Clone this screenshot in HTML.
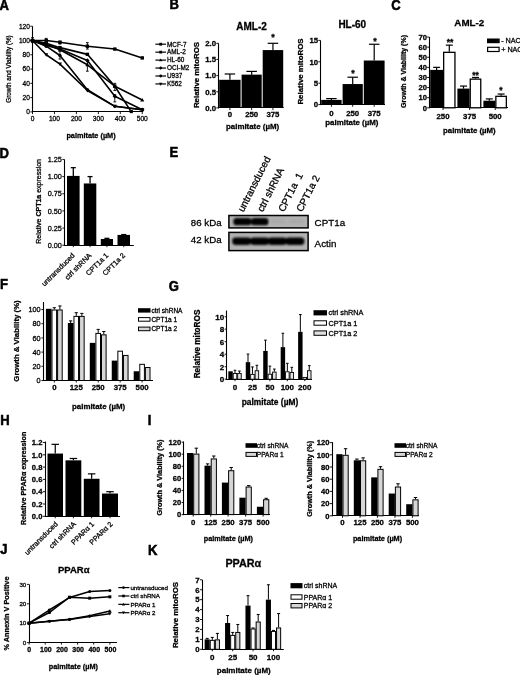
<!DOCTYPE html>
<html><head><meta charset="utf-8"><title>Figure</title>
<style>
html,body{margin:0;padding:0;background:#fff;}
body{width:520px;height:675px;overflow:hidden;}
svg{display:block;font-family:"Liberation Sans",sans-serif;filter:grayscale(100%) blur(0.3px);}
text{stroke:#000;stroke-width:0.28px;}
</style></head><body>
<svg width="520" height="675" viewBox="0 0 520 675">
<rect width="520" height="675" fill="#fff"/>
<g fill="#000" stroke="none">
<text transform="translate(-0.5 9.6) scale(0.92 1)" font-size="14.2" font-weight="bold" style="stroke-width:0.55px">A</text>
<text transform="translate(169.5 8.8) scale(0.92 1)" font-size="14.2" font-weight="bold" style="stroke-width:0.55px">B</text>
<text transform="translate(391.3 9.5) scale(0.92 1)" font-size="14.2" font-weight="bold" style="stroke-width:0.55px">C</text>
<text transform="translate(-0.5 157.6) scale(0.92 1)" font-size="14.2" font-weight="bold" style="stroke-width:0.55px">D</text>
<text transform="translate(169.4 157) scale(0.92 1)" font-size="14.2" font-weight="bold" style="stroke-width:0.55px">E</text>
<text transform="translate(0 289.4) scale(0.92 1)" font-size="14.2" font-weight="bold" style="stroke-width:0.55px">F</text>
<text transform="translate(168.8 291.2) scale(0.92 1)" font-size="14.2" font-weight="bold" style="stroke-width:0.55px">G</text>
<text transform="translate(0.2 425) scale(0.92 1)" font-size="14.2" font-weight="bold" style="stroke-width:0.55px">H</text>
<text transform="translate(147.8 425) scale(0.92 1)" font-size="14.2" font-weight="bold" style="stroke-width:0.55px">I</text>
<text transform="translate(0.2 553.8) scale(0.92 1)" font-size="14.2" font-weight="bold" style="stroke-width:0.55px">J</text>
<text transform="translate(148 555) scale(0.92 1)" font-size="14.2" font-weight="bold" style="stroke-width:0.55px">K</text>
<line x1="32.5" y1="26.22" x2="32.5" y2="112.4" stroke="#000" stroke-width="1.1"/>
<line x1="32" y1="111.5" x2="143.25" y2="111.5" stroke="#000" stroke-width="1.1"/>
<line x1="30.3" y1="111.9" x2="32.5" y2="111.9" stroke="#000" stroke-width="0.9"/>
<text x="29.9" y="114.28" font-size="6.6" font-weight="normal" text-anchor="end">0</text>
<line x1="30.3" y1="97.62" x2="32.5" y2="97.62" stroke="#000" stroke-width="0.9"/>
<text x="29.9" y="100" font-size="6.6" font-weight="normal" text-anchor="end">20</text>
<line x1="30.3" y1="83.34" x2="32.5" y2="83.34" stroke="#000" stroke-width="0.9"/>
<text x="29.9" y="85.72" font-size="6.6" font-weight="normal" text-anchor="end">40</text>
<line x1="30.3" y1="69.06" x2="32.5" y2="69.06" stroke="#000" stroke-width="0.9"/>
<text x="29.9" y="71.44" font-size="6.6" font-weight="normal" text-anchor="end">60</text>
<line x1="30.3" y1="54.78" x2="32.5" y2="54.78" stroke="#000" stroke-width="0.9"/>
<text x="29.9" y="57.16" font-size="6.6" font-weight="normal" text-anchor="end">80</text>
<line x1="30.3" y1="40.5" x2="32.5" y2="40.5" stroke="#000" stroke-width="0.9"/>
<text x="29.9" y="42.88" font-size="6.6" font-weight="normal" text-anchor="end">100</text>
<line x1="30.3" y1="26.22" x2="32.5" y2="26.22" stroke="#000" stroke-width="0.9"/>
<text x="29.9" y="28.6" font-size="6.6" font-weight="normal" text-anchor="end">120</text>
<line x1="32.5" y1="111.9" x2="32.5" y2="114.1" stroke="#000" stroke-width="0.9"/>
<text x="32.5" y="121.18" font-size="6.6" font-weight="normal" text-anchor="middle">0</text>
<line x1="54.45" y1="111.9" x2="54.45" y2="114.1" stroke="#000" stroke-width="0.9"/>
<text x="54.45" y="121.18" font-size="6.6" font-weight="normal" text-anchor="middle">100</text>
<line x1="76.4" y1="111.9" x2="76.4" y2="114.1" stroke="#000" stroke-width="0.9"/>
<text x="76.4" y="121.18" font-size="6.6" font-weight="normal" text-anchor="middle">200</text>
<line x1="98.35" y1="111.9" x2="98.35" y2="114.1" stroke="#000" stroke-width="0.9"/>
<text x="98.35" y="121.18" font-size="6.6" font-weight="normal" text-anchor="middle">300</text>
<line x1="120.3" y1="111.9" x2="120.3" y2="114.1" stroke="#000" stroke-width="0.9"/>
<text x="120.3" y="121.18" font-size="6.6" font-weight="normal" text-anchor="middle">400</text>
<line x1="142.25" y1="111.9" x2="142.25" y2="114.1" stroke="#000" stroke-width="0.9"/>
<text x="142.25" y="121.18" font-size="6.6" font-weight="normal" text-anchor="middle">500</text>
<text transform="translate(11.17 69) rotate(-90)" font-size="6.3" font-weight="normal" text-anchor="middle">Growth and Viability (%)</text>
<text x="91" y="138.23" font-size="7.3" font-weight="bold" text-anchor="middle">palmitate (&#181;M)</text>
<polyline points="32.5,40.5 46.22,40.5 59.94,42.29 87.38,46.21 114.81,49.07 142.25,57.92" fill="none" stroke="#000" stroke-width="1.6" stroke-linejoin="round"/>
<polyline points="32.5,40.5 46.22,43.36 59.94,47.64 87.38,54.35 114.81,86.2 131.28,111.9" fill="none" stroke="#000" stroke-width="1.6" stroke-linejoin="round"/>
<polyline points="32.5,40.5 46.22,44.07 59.94,49.78 87.38,64.78 114.81,86.2 142.25,100.05" fill="none" stroke="#000" stroke-width="1.6" stroke-linejoin="round"/>
<polyline points="32.5,40.5 46.22,45.5 59.94,49.07 87.38,60.49 114.81,96.19 142.25,109.76" fill="none" stroke="#000" stroke-width="1.6" stroke-linejoin="round"/>
<polyline points="32.5,40.5 46.22,46.21 59.94,55.49 87.38,89.77 114.81,106.33 142.25,109.76" fill="none" stroke="#000" stroke-width="1.6" stroke-linejoin="round"/>
<polyline points="32.5,40.5 46.22,54.78 59.94,64.06 87.38,90.48 114.81,106.33 142.25,109.76" fill="none" stroke="#000" stroke-width="1.6" stroke-linejoin="round"/>
<rect x="30.8" y="38.8" width="3.4" height="3.4" fill="#000"/>
<rect x="44.52" y="38.8" width="3.4" height="3.4" fill="#000"/>
<rect x="58.24" y="40.59" width="3.4" height="3.4" fill="#000"/>
<rect x="85.67" y="44.51" width="3.4" height="3.4" fill="#000"/>
<rect x="113.11" y="47.37" width="3.4" height="3.4" fill="#000"/>
<rect x="140.55" y="56.22" width="3.4" height="3.4" fill="#000"/>
<rect x="30.8" y="38.8" width="3.4" height="3.4" fill="#000"/>
<rect x="44.52" y="41.66" width="3.4" height="3.4" fill="#000"/>
<rect x="58.24" y="45.94" width="3.4" height="3.4" fill="#000"/>
<rect x="85.67" y="52.65" width="3.4" height="3.4" fill="#000"/>
<rect x="113.11" y="84.5" width="3.4" height="3.4" fill="#000"/>
<polygon points="32.5,38.46 30.46,42.03 34.54,42.03" fill="#000"/>
<polygon points="46.22,42.03 44.18,45.6 48.26,45.6" fill="#000"/>
<polygon points="59.94,47.74 57.9,51.31 61.98,51.31" fill="#000"/>
<polygon points="87.38,62.74 85.33,66.31 89.42,66.31" fill="#000"/>
<polygon points="114.81,84.16 112.77,87.73 116.85,87.73" fill="#000"/>
<polygon points="142.25,98.01 140.21,101.58 144.29,101.58" fill="#000"/>
<polygon points="32.5,38.29 34.71,40.5 32.5,42.71 30.29,40.5" fill="#000"/>
<polygon points="46.22,43.29 48.43,45.5 46.22,47.71 44.01,45.5" fill="#000"/>
<polygon points="59.94,46.86 62.15,49.07 59.94,51.28 57.73,49.07" fill="#000"/>
<polygon points="87.38,58.28 89.58,60.49 87.38,62.7 85.17,60.49" fill="#000"/>
<polygon points="114.81,93.98 117.02,96.19 114.81,98.4 112.6,96.19" fill="#000"/>
<polygon points="142.25,107.55 144.46,109.76 142.25,111.97 140.04,109.76" fill="#000"/>
<circle cx="32.5" cy="40.5" r="1.7" fill="#000"/>
<circle cx="46.22" cy="46.21" r="1.7" fill="#000"/>
<circle cx="59.94" cy="55.49" r="1.7" fill="#000"/>
<circle cx="87.38" cy="89.77" r="1.7" fill="#000"/>
<circle cx="114.81" cy="106.33" r="1.7" fill="#000"/>
<circle cx="142.25" cy="109.76" r="1.7" fill="#000"/>
<polygon points="32.5,42.54 30.46,38.97 34.54,38.97" fill="#000"/>
<polygon points="46.22,56.82 44.18,53.25 48.26,53.25" fill="#000"/>
<polygon points="59.94,66.1 57.9,62.53 61.98,62.53" fill="#000"/>
<polygon points="87.38,92.52 85.33,88.95 89.42,88.95" fill="#000"/>
<polygon points="114.81,108.37 112.77,104.8 116.85,104.8" fill="#000"/>
<polygon points="142.25,111.8 140.21,108.23 144.29,108.23" fill="#000"/>
<rect x="129.68" y="109.94" width="3.2" height="3.2" fill="#000"/>
<line x1="32.5" y1="42.64" x2="32.5" y2="37.64" stroke="#000" stroke-width="0.9"/>
<line x1="31.1" y1="42.64" x2="33.9" y2="42.64" stroke="#000" stroke-width="0.9"/>
<line x1="31.1" y1="37.64" x2="33.9" y2="37.64" stroke="#000" stroke-width="0.9"/>
<line x1="46.22" y1="42.64" x2="46.22" y2="38.36" stroke="#000" stroke-width="0.9"/>
<line x1="44.82" y1="42.64" x2="47.62" y2="42.64" stroke="#000" stroke-width="0.9"/>
<line x1="44.82" y1="38.36" x2="47.62" y2="38.36" stroke="#000" stroke-width="0.9"/>
<line x1="59.94" y1="59.06" x2="59.94" y2="51.21" stroke="#000" stroke-width="0.9"/>
<line x1="58.54" y1="59.06" x2="61.34" y2="59.06" stroke="#000" stroke-width="0.9"/>
<line x1="58.54" y1="51.21" x2="61.34" y2="51.21" stroke="#000" stroke-width="0.9"/>
<line x1="59.94" y1="44.07" x2="59.94" y2="41.21" stroke="#000" stroke-width="0.9"/>
<line x1="58.54" y1="44.07" x2="61.34" y2="44.07" stroke="#000" stroke-width="0.9"/>
<line x1="58.54" y1="41.21" x2="61.34" y2="41.21" stroke="#000" stroke-width="0.9"/>
<line x1="87.38" y1="49.07" x2="87.38" y2="42.64" stroke="#000" stroke-width="0.9"/>
<line x1="85.97" y1="49.07" x2="88.78" y2="49.07" stroke="#000" stroke-width="0.9"/>
<line x1="85.97" y1="42.64" x2="88.78" y2="42.64" stroke="#000" stroke-width="0.9"/>
<line x1="87.38" y1="71.2" x2="87.38" y2="60.49" stroke="#000" stroke-width="0.9"/>
<line x1="85.97" y1="71.2" x2="88.78" y2="71.2" stroke="#000" stroke-width="0.9"/>
<line x1="85.97" y1="60.49" x2="88.78" y2="60.49" stroke="#000" stroke-width="0.9"/>
<line x1="114.81" y1="90.48" x2="114.81" y2="83.34" stroke="#000" stroke-width="0.9"/>
<line x1="113.41" y1="90.48" x2="116.21" y2="90.48" stroke="#000" stroke-width="0.9"/>
<line x1="113.41" y1="83.34" x2="116.21" y2="83.34" stroke="#000" stroke-width="0.9"/>
<line x1="114.81" y1="101.9" x2="114.81" y2="94.76" stroke="#000" stroke-width="0.9"/>
<line x1="113.41" y1="101.9" x2="116.21" y2="101.9" stroke="#000" stroke-width="0.9"/>
<line x1="113.41" y1="94.76" x2="116.21" y2="94.76" stroke="#000" stroke-width="0.9"/>
<line x1="155.4" y1="44.2" x2="166" y2="44.2" stroke="#000" stroke-width="1.2"/>
<rect x="159.3" y="42.8" width="2.8" height="2.8" fill="#000"/>
<text x="167" y="46.5" font-size="6.4" font-weight="normal" text-anchor="start">MCF-7</text>
<line x1="155.4" y1="52.15" x2="166" y2="52.15" stroke="#000" stroke-width="1.2"/>
<rect x="159.3" y="50.75" width="2.8" height="2.8" fill="#000"/>
<text x="167" y="54.45" font-size="6.4" font-weight="normal" text-anchor="start">AML-2</text>
<line x1="155.4" y1="60.1" x2="166" y2="60.1" stroke="#000" stroke-width="1.2"/>
<polygon points="160.7,58.42 159.02,61.36 162.38,61.36" fill="#000"/>
<text x="167" y="62.4" font-size="6.4" font-weight="normal" text-anchor="start">HL-60</text>
<line x1="155.4" y1="68.05" x2="166" y2="68.05" stroke="#000" stroke-width="1.2"/>
<polygon points="160.7,66.23 162.52,68.05 160.7,69.87 158.88,68.05" fill="#000"/>
<text x="167" y="70.35" font-size="6.4" font-weight="normal" text-anchor="start">OCI-M2</text>
<line x1="155.4" y1="76" x2="166" y2="76" stroke="#000" stroke-width="1.2"/>
<circle cx="160.7" cy="76" r="1.4" fill="#000"/>
<text x="167" y="78.3" font-size="6.4" font-weight="normal" text-anchor="start">U937</text>
<line x1="155.4" y1="83.95" x2="166" y2="83.95" stroke="#000" stroke-width="1.2"/>
<polygon points="160.7,85.63 159.02,82.69 162.38,82.69" fill="#000"/>
<text x="167" y="86.25" font-size="6.4" font-weight="normal" text-anchor="start">K562</text>
<text x="251.5" y="30.3" font-size="10" font-weight="bold" text-anchor="middle">AML-2</text>
<line x1="218.5" y1="43.3" x2="218.5" y2="108.4" stroke="#000" stroke-width="1.1"/>
<line x1="218" y1="107.5" x2="283.7" y2="107.5" stroke="#000" stroke-width="1.1"/>
<line x1="216.3" y1="107.9" x2="218.5" y2="107.9" stroke="#000" stroke-width="0.9"/>
<text x="216.1" y="110.71" font-size="7.8" font-weight="bold" text-anchor="end">0.0</text>
<line x1="216.3" y1="91.75" x2="218.5" y2="91.75" stroke="#000" stroke-width="0.9"/>
<text x="216.1" y="94.56" font-size="7.8" font-weight="bold" text-anchor="end">0.5</text>
<line x1="216.3" y1="75.6" x2="218.5" y2="75.6" stroke="#000" stroke-width="0.9"/>
<text x="216.1" y="78.41" font-size="7.8" font-weight="bold" text-anchor="end">1.0</text>
<line x1="216.3" y1="59.45" x2="218.5" y2="59.45" stroke="#000" stroke-width="0.9"/>
<text x="216.1" y="62.26" font-size="7.8" font-weight="bold" text-anchor="end">1.5</text>
<line x1="216.3" y1="43.3" x2="218.5" y2="43.3" stroke="#000" stroke-width="0.9"/>
<text x="216.1" y="46.11" font-size="7.8" font-weight="bold" text-anchor="end">2.0</text>
<line x1="229.9" y1="79.8" x2="229.9" y2="73.99" stroke="#000" stroke-width="1.2"/>
<line x1="224.65" y1="73.99" x2="235.15" y2="73.99" stroke="#000" stroke-width="1.2"/>
<rect x="219.2" y="79.8" width="21.4" height="28.1" fill="#000"/>
<line x1="251.65" y1="74.63" x2="251.65" y2="71.4" stroke="#000" stroke-width="1.2"/>
<line x1="246.4" y1="71.4" x2="256.9" y2="71.4" stroke="#000" stroke-width="1.2"/>
<rect x="241.6" y="74.63" width="20.1" height="33.27" fill="#000"/>
<line x1="272.95" y1="50.08" x2="272.95" y2="43.3" stroke="#000" stroke-width="1.2"/>
<line x1="267.7" y1="43.3" x2="278.2" y2="43.3" stroke="#000" stroke-width="1.2"/>
<rect x="262.7" y="50.08" width="20.5" height="57.82" fill="#000"/>
<line x1="229.9" y1="107.9" x2="229.9" y2="110.1" stroke="#000" stroke-width="0.9"/>
<text x="229.9" y="117.11" font-size="7.8" font-weight="bold" text-anchor="middle">0</text>
<line x1="251.65" y1="107.9" x2="251.65" y2="110.1" stroke="#000" stroke-width="0.9"/>
<text x="251.65" y="117.11" font-size="7.8" font-weight="bold" text-anchor="middle">250</text>
<line x1="272.95" y1="107.9" x2="272.95" y2="110.1" stroke="#000" stroke-width="0.9"/>
<text x="272.95" y="117.11" font-size="7.8" font-weight="bold" text-anchor="middle">375</text>
<text x="273" y="39.74" font-size="9" font-weight="bold" text-anchor="middle">*</text>
<text x="252.6" y="128.64" font-size="7.9" font-weight="bold" text-anchor="middle">palmitate (&#181;M)</text>
<text transform="translate(199.44 75) rotate(-90)" font-size="7.9" font-weight="bold" text-anchor="middle">Relative mitoROS</text>
<text x="352.3" y="28" font-size="10" font-weight="bold" text-anchor="middle">HL-60</text>
<line x1="320.5" y1="40.4" x2="320.5" y2="105.1" stroke="#000" stroke-width="1.1"/>
<line x1="320" y1="104.5" x2="385" y2="104.5" stroke="#000" stroke-width="1.1"/>
<line x1="318.3" y1="104.6" x2="320.5" y2="104.6" stroke="#000" stroke-width="0.9"/>
<text x="318.1" y="107.41" font-size="7.8" font-weight="bold" text-anchor="end">0</text>
<line x1="318.3" y1="83.2" x2="320.5" y2="83.2" stroke="#000" stroke-width="0.9"/>
<text x="318.1" y="86.01" font-size="7.8" font-weight="bold" text-anchor="end">5</text>
<line x1="318.3" y1="61.8" x2="320.5" y2="61.8" stroke="#000" stroke-width="0.9"/>
<text x="318.1" y="64.61" font-size="7.8" font-weight="bold" text-anchor="end">10</text>
<line x1="318.3" y1="40.4" x2="320.5" y2="40.4" stroke="#000" stroke-width="0.9"/>
<text x="318.1" y="43.21" font-size="7.8" font-weight="bold" text-anchor="end">15</text>
<line x1="331.4" y1="99.89" x2="331.4" y2="98.61" stroke="#000" stroke-width="1.2"/>
<line x1="326.15" y1="98.61" x2="336.65" y2="98.61" stroke="#000" stroke-width="1.2"/>
<rect x="321.2" y="99.89" width="20.4" height="4.71" fill="#000"/>
<line x1="331.4" y1="104.6" x2="331.4" y2="106.8" stroke="#000" stroke-width="0.9"/>
<text x="331.4" y="115.51" font-size="7.8" font-weight="bold" text-anchor="middle">0</text>
<line x1="352.7" y1="84.06" x2="352.7" y2="77.21" stroke="#000" stroke-width="1.2"/>
<line x1="347.45" y1="77.21" x2="357.95" y2="77.21" stroke="#000" stroke-width="1.2"/>
<rect x="342.6" y="84.06" width="20.2" height="20.54" fill="#000"/>
<line x1="352.7" y1="104.6" x2="352.7" y2="106.8" stroke="#000" stroke-width="0.9"/>
<text x="352.7" y="115.51" font-size="7.8" font-weight="bold" text-anchor="middle">250</text>
<line x1="374.2" y1="60.52" x2="374.2" y2="44.25" stroke="#000" stroke-width="1.2"/>
<line x1="368.95" y1="44.25" x2="379.45" y2="44.25" stroke="#000" stroke-width="1.2"/>
<rect x="363.8" y="60.52" width="20.8" height="44.08" fill="#000"/>
<line x1="374.2" y1="104.6" x2="374.2" y2="106.8" stroke="#000" stroke-width="0.9"/>
<text x="374.2" y="115.51" font-size="7.8" font-weight="bold" text-anchor="middle">375</text>
<text x="352.9" y="76.04" font-size="9" font-weight="bold" text-anchor="middle">*</text>
<text x="375" y="44.04" font-size="9" font-weight="bold" text-anchor="middle">*</text>
<text x="351.9" y="124.54" font-size="7.9" font-weight="bold" text-anchor="middle">palmitate (&#181;M)</text>
<text transform="translate(303.24 71.5) rotate(-90)" font-size="7.9" font-weight="bold" text-anchor="middle">Relative mitoROS</text>
<text x="469.3" y="25.93" font-size="9.8" font-weight="bold" text-anchor="middle">AML-2</text>
<line x1="429.5" y1="37.03" x2="429.5" y2="108.3" stroke="#000" stroke-width="1.1"/>
<line x1="429" y1="107.5" x2="508" y2="107.5" stroke="#000" stroke-width="1.1"/>
<line x1="427.1" y1="107.8" x2="429.3" y2="107.8" stroke="#000" stroke-width="0.9"/>
<text x="426.9" y="110.54" font-size="7.6" font-weight="bold" text-anchor="end">0</text>
<line x1="427.1" y1="97.69" x2="429.3" y2="97.69" stroke="#000" stroke-width="0.9"/>
<text x="426.9" y="100.43" font-size="7.6" font-weight="bold" text-anchor="end">10</text>
<line x1="427.1" y1="87.58" x2="429.3" y2="87.58" stroke="#000" stroke-width="0.9"/>
<text x="426.9" y="90.32" font-size="7.6" font-weight="bold" text-anchor="end">20</text>
<line x1="427.1" y1="77.47" x2="429.3" y2="77.47" stroke="#000" stroke-width="0.9"/>
<text x="426.9" y="80.21" font-size="7.6" font-weight="bold" text-anchor="end">30</text>
<line x1="427.1" y1="67.36" x2="429.3" y2="67.36" stroke="#000" stroke-width="0.9"/>
<text x="426.9" y="70.1" font-size="7.6" font-weight="bold" text-anchor="end">40</text>
<line x1="427.1" y1="57.25" x2="429.3" y2="57.25" stroke="#000" stroke-width="0.9"/>
<text x="426.9" y="59.99" font-size="7.6" font-weight="bold" text-anchor="end">50</text>
<line x1="427.1" y1="47.14" x2="429.3" y2="47.14" stroke="#000" stroke-width="0.9"/>
<text x="426.9" y="49.88" font-size="7.6" font-weight="bold" text-anchor="end">60</text>
<line x1="427.1" y1="37.03" x2="429.3" y2="37.03" stroke="#000" stroke-width="0.9"/>
<text x="426.9" y="39.77" font-size="7.6" font-weight="bold" text-anchor="end">70</text>
<line x1="436.6" y1="69.89" x2="436.6" y2="67.36" stroke="#000" stroke-width="1.2"/>
<line x1="433.1" y1="67.36" x2="440.1" y2="67.36" stroke="#000" stroke-width="1.2"/>
<rect x="430.2" y="69.89" width="12.8" height="37.91" fill="#000"/>
<line x1="449.3" y1="51.69" x2="449.3" y2="45.12" stroke="#000" stroke-width="1.2"/>
<line x1="445.8" y1="45.12" x2="452.8" y2="45.12" stroke="#000" stroke-width="1.2"/>
<rect x="443.65" y="52.34" width="11.3" height="55.46" fill="#fff" stroke="#000" stroke-width="1.3"/>
<line x1="443" y1="107.8" x2="443" y2="110" stroke="#000" stroke-width="0.9"/>
<text x="443" y="119.11" font-size="7.8" font-weight="bold" text-anchor="middle">250</text>
<line x1="463.5" y1="88.59" x2="463.5" y2="86.06" stroke="#000" stroke-width="1.2"/>
<line x1="460" y1="86.06" x2="467" y2="86.06" stroke="#000" stroke-width="1.2"/>
<rect x="457.4" y="88.59" width="12.2" height="19.21" fill="#000"/>
<line x1="475.5" y1="78.48" x2="475.5" y2="77.47" stroke="#000" stroke-width="1.2"/>
<line x1="472" y1="77.47" x2="479" y2="77.47" stroke="#000" stroke-width="1.2"/>
<rect x="470.25" y="79.13" width="10.5" height="28.67" fill="#fff" stroke="#000" stroke-width="1.3"/>
<line x1="469.6" y1="107.8" x2="469.6" y2="110" stroke="#000" stroke-width="0.9"/>
<text x="469.6" y="119.11" font-size="7.8" font-weight="bold" text-anchor="middle">375</text>
<line x1="489.3" y1="100.72" x2="489.3" y2="98.9" stroke="#000" stroke-width="1.2"/>
<line x1="485.8" y1="98.9" x2="492.8" y2="98.9" stroke="#000" stroke-width="1.2"/>
<rect x="483.4" y="100.72" width="11.8" height="7.08" fill="#000"/>
<line x1="501.1" y1="95.67" x2="501.1" y2="94.05" stroke="#000" stroke-width="1.2"/>
<line x1="497.6" y1="94.05" x2="504.6" y2="94.05" stroke="#000" stroke-width="1.2"/>
<rect x="495.85" y="96.32" width="10.5" height="11.48" fill="#fff" stroke="#000" stroke-width="1.3"/>
<line x1="495.2" y1="107.8" x2="495.2" y2="110" stroke="#000" stroke-width="0.9"/>
<text x="495.2" y="119.11" font-size="7.8" font-weight="bold" text-anchor="middle">500</text>
<text x="450" y="44.56" font-size="8.5" font-weight="bold" text-anchor="middle">**</text>
<text x="475.5" y="77.56" font-size="8.5" font-weight="bold" text-anchor="middle">**</text>
<text x="501" y="93.06" font-size="8.5" font-weight="bold" text-anchor="middle">*</text>
<text x="469.4" y="133.31" font-size="7.8" font-weight="bold" text-anchor="middle">palmitate (&#181;M)</text>
<text transform="translate(406.32 71.5) rotate(-90)" font-size="7" font-weight="bold" text-anchor="middle">Growth &amp; Viability (%)</text>
<rect x="487" y="38.5" width="12.7" height="4.7" fill="#000"/>
<rect x="487.6" y="47.3" width="11.5" height="4.2" fill="#fff" stroke="#000" stroke-width="1.2"/>
<text x="501.2" y="43.49" font-size="7.2" font-weight="normal" text-anchor="start">- NAC</text>
<text x="501.2" y="51.99" font-size="7.2" font-weight="normal" text-anchor="start">+ NAC</text>
<line x1="64.5" y1="159.45" x2="64.5" y2="245.7" stroke="#000" stroke-width="1.1"/>
<line x1="64" y1="245.5" x2="133.8" y2="245.5" stroke="#000" stroke-width="1.1"/>
<line x1="62.3" y1="245.2" x2="64.5" y2="245.2" stroke="#000" stroke-width="0.9"/>
<text x="61.9" y="247.83" font-size="7.3" font-weight="normal" text-anchor="end">0.00</text>
<line x1="62.3" y1="228.05" x2="64.5" y2="228.05" stroke="#000" stroke-width="0.9"/>
<text x="61.9" y="230.68" font-size="7.3" font-weight="normal" text-anchor="end">0.25</text>
<line x1="62.3" y1="210.9" x2="64.5" y2="210.9" stroke="#000" stroke-width="0.9"/>
<text x="61.9" y="213.53" font-size="7.3" font-weight="normal" text-anchor="end">0.50</text>
<line x1="62.3" y1="193.75" x2="64.5" y2="193.75" stroke="#000" stroke-width="0.9"/>
<text x="61.9" y="196.38" font-size="7.3" font-weight="normal" text-anchor="end">0.75</text>
<line x1="62.3" y1="176.6" x2="64.5" y2="176.6" stroke="#000" stroke-width="0.9"/>
<text x="61.9" y="179.23" font-size="7.3" font-weight="normal" text-anchor="end">1.00</text>
<line x1="62.3" y1="159.45" x2="64.5" y2="159.45" stroke="#000" stroke-width="0.9"/>
<text x="61.9" y="162.08" font-size="7.3" font-weight="normal" text-anchor="end">1.25</text>
<line x1="73.3" y1="175.91" x2="73.3" y2="167.68" stroke="#000" stroke-width="1.3"/>
<line x1="70.8" y1="167.68" x2="75.8" y2="167.68" stroke="#000" stroke-width="1.3"/>
<rect x="67" y="175.91" width="12.6" height="69.29" fill="#000"/>
<line x1="73.3" y1="245.2" x2="73.3" y2="247.2" stroke="#000" stroke-width="0.9"/>
<line x1="90.05" y1="183.46" x2="90.05" y2="176.6" stroke="#000" stroke-width="1.3"/>
<line x1="87.55" y1="176.6" x2="92.55" y2="176.6" stroke="#000" stroke-width="1.3"/>
<rect x="83.8" y="183.46" width="12.5" height="61.74" fill="#000"/>
<line x1="90.05" y1="245.2" x2="90.05" y2="247.2" stroke="#000" stroke-width="0.9"/>
<line x1="106.9" y1="239.03" x2="106.9" y2="238.34" stroke="#000" stroke-width="1.3"/>
<line x1="104.4" y1="238.34" x2="109.4" y2="238.34" stroke="#000" stroke-width="1.3"/>
<rect x="100.8" y="239.03" width="12.2" height="6.17" fill="#000"/>
<line x1="106.9" y1="245.2" x2="106.9" y2="247.2" stroke="#000" stroke-width="0.9"/>
<line x1="123.75" y1="234.91" x2="123.75" y2="234.57" stroke="#000" stroke-width="1.3"/>
<line x1="121.25" y1="234.57" x2="126.25" y2="234.57" stroke="#000" stroke-width="1.3"/>
<rect x="117.5" y="234.91" width="12.5" height="10.29" fill="#000"/>
<line x1="123.75" y1="245.2" x2="123.75" y2="247.2" stroke="#000" stroke-width="0.9"/>
<text transform="translate(40.82 201.4) rotate(-90)" font-size="7" font-weight="normal" text-anchor="middle">Relative <tspan font-weight="bold">CPT1a</tspan> expression</text>
<text transform="translate(75.2 256) rotate(-45)" font-size="7.2" font-weight="normal" text-anchor="end">untransduced</text>
<text transform="translate(91.95 256) rotate(-45)" font-size="7.2" font-weight="normal" text-anchor="end">ctrl shRNA</text>
<text transform="translate(108.8 256) rotate(-45)" font-size="7.2" font-weight="normal" text-anchor="end">CPT1a 1</text>
<text transform="translate(125.65 256) rotate(-45)" font-size="7.2" font-weight="normal" text-anchor="end">CPT1a 2</text>
<text transform="translate(243.4 212.6) rotate(-63)" font-size="10" font-weight="normal" text-anchor="start">untransduced</text>
<text transform="translate(262.7 212.6) rotate(-63)" font-size="10" font-weight="normal" text-anchor="start">ctrl shRNA</text>
<text transform="translate(284 212.6) rotate(-63)" font-size="10" font-weight="normal" text-anchor="start">CPT1a&#160;&#160;1</text>
<text transform="translate(302 212.6) rotate(-63)" font-size="10" font-weight="normal" text-anchor="start">CPT1a 2</text>
<defs><filter id="bl" x="-20%" y="-50%" width="140%" height="200%"><feGaussianBlur stdDeviation="0.8"/></filter></defs>
<rect x="228.9" y="215.5" width="79.2" height="12.4" fill="#b2b2b2" stroke="#000" stroke-width="1.5"/>
<g filter="url(#bl)">
<rect x="233.3" y="217.9" width="18.2" height="7.4" rx="3.4" fill="#000"/>
<rect x="251" y="217.9" width="17.5" height="7.4" rx="3.4" fill="#000"/>
<rect x="271" y="219" width="15" height="5" rx="2.5" fill="#aaa"/>
<rect x="289" y="219" width="15" height="5" rx="2.5" fill="#aaa"/>
</g>
<rect x="228.9" y="232.4" width="79.2" height="18.2" fill="#b2b2b2" stroke="#000" stroke-width="1.5"/>
<g filter="url(#bl)">
<rect x="232.2" y="237.5" width="19" height="7.4" rx="3.4" fill="#000"/>
<rect x="250.2" y="237.5" width="19" height="7.4" rx="3.4" fill="#000"/>
<rect x="267.8" y="237.5" width="19" height="7.4" rx="3.4" fill="#000"/>
<rect x="285.4" y="237.5" width="19" height="7.4" rx="3.4" fill="#000"/>
</g>
<text x="206.2" y="225.99" font-size="9.7" font-weight="normal" text-anchor="middle">86 kDa</text>
<text x="206.2" y="243.09" font-size="9.7" font-weight="normal" text-anchor="middle">42 kDa</text>
<text x="314.6" y="225.53" font-size="9.8" font-weight="normal" text-anchor="start">CPT1a</text>
<text x="314.6" y="246.53" font-size="9.8" font-weight="normal" text-anchor="start">Actin</text>
<line x1="43.5" y1="302" x2="43.5" y2="381" stroke="#000" stroke-width="1.1"/>
<line x1="43" y1="380.5" x2="153" y2="380.5" stroke="#000" stroke-width="1.1"/>
<line x1="41.4" y1="380.5" x2="43.6" y2="380.5" stroke="#000" stroke-width="0.9"/>
<text x="40.6" y="383.13" font-size="7.3" font-weight="normal" text-anchor="end">0</text>
<line x1="41.4" y1="366.3" x2="43.6" y2="366.3" stroke="#000" stroke-width="0.9"/>
<text x="40.6" y="368.93" font-size="7.3" font-weight="normal" text-anchor="end">20</text>
<line x1="41.4" y1="352.1" x2="43.6" y2="352.1" stroke="#000" stroke-width="0.9"/>
<text x="40.6" y="354.73" font-size="7.3" font-weight="normal" text-anchor="end">40</text>
<line x1="41.4" y1="337.9" x2="43.6" y2="337.9" stroke="#000" stroke-width="0.9"/>
<text x="40.6" y="340.53" font-size="7.3" font-weight="normal" text-anchor="end">60</text>
<line x1="41.4" y1="323.7" x2="43.6" y2="323.7" stroke="#000" stroke-width="0.9"/>
<text x="40.6" y="326.33" font-size="7.3" font-weight="normal" text-anchor="end">80</text>
<line x1="41.4" y1="309.5" x2="43.6" y2="309.5" stroke="#000" stroke-width="0.9"/>
<text x="40.6" y="312.13" font-size="7.3" font-weight="normal" text-anchor="end">100</text>
<rect x="45.9" y="308.79" width="5.6" height="71.71" fill="#000"/>
<line x1="54.3" y1="309.5" x2="54.3" y2="307.73" stroke="#000" stroke-width="1"/>
<line x1="52.7" y1="307.73" x2="55.9" y2="307.73" stroke="#000" stroke-width="1"/>
<rect x="52" y="310" width="4.6" height="70.5" fill="#fff" stroke="#000" stroke-width="1"/>
<line x1="59.9" y1="309.5" x2="59.9" y2="305.95" stroke="#000" stroke-width="1"/>
<line x1="58.3" y1="305.95" x2="61.5" y2="305.95" stroke="#000" stroke-width="1"/>
<rect x="57.6" y="310" width="4.6" height="70.5" fill="#d6d6d6" stroke="#000" stroke-width="1"/>
<line x1="54.3" y1="380.5" x2="54.3" y2="382.5" stroke="#000" stroke-width="0.9"/>
<text x="54.3" y="390.31" font-size="7.8" font-weight="bold" text-anchor="middle">0</text>
<line x1="70.65" y1="322.99" x2="70.65" y2="320.86" stroke="#000" stroke-width="1"/>
<line x1="69.05" y1="320.86" x2="72.25" y2="320.86" stroke="#000" stroke-width="1"/>
<rect x="67.85" y="322.99" width="5.6" height="57.51" fill="#000"/>
<line x1="76.25" y1="315.89" x2="76.25" y2="312.69" stroke="#000" stroke-width="1"/>
<line x1="74.65" y1="312.69" x2="77.85" y2="312.69" stroke="#000" stroke-width="1"/>
<rect x="73.95" y="316.39" width="4.6" height="64.11" fill="#fff" stroke="#000" stroke-width="1"/>
<line x1="81.85" y1="315.89" x2="81.85" y2="313.4" stroke="#000" stroke-width="1"/>
<line x1="80.25" y1="313.4" x2="83.45" y2="313.4" stroke="#000" stroke-width="1"/>
<rect x="79.55" y="316.39" width="4.6" height="64.11" fill="#d6d6d6" stroke="#000" stroke-width="1"/>
<line x1="76.25" y1="380.5" x2="76.25" y2="382.5" stroke="#000" stroke-width="0.9"/>
<text x="76.25" y="390.31" font-size="7.8" font-weight="bold" text-anchor="middle">125</text>
<rect x="89.8" y="342.87" width="5.6" height="37.63" fill="#000"/>
<line x1="98.2" y1="332.93" x2="98.2" y2="329.38" stroke="#000" stroke-width="1"/>
<line x1="96.6" y1="329.38" x2="99.8" y2="329.38" stroke="#000" stroke-width="1"/>
<rect x="95.9" y="333.43" width="4.6" height="47.07" fill="#fff" stroke="#000" stroke-width="1"/>
<line x1="103.8" y1="334.35" x2="103.8" y2="331.51" stroke="#000" stroke-width="1"/>
<line x1="102.2" y1="331.51" x2="105.4" y2="331.51" stroke="#000" stroke-width="1"/>
<rect x="101.5" y="334.85" width="4.6" height="45.65" fill="#d6d6d6" stroke="#000" stroke-width="1"/>
<line x1="98.2" y1="380.5" x2="98.2" y2="382.5" stroke="#000" stroke-width="0.9"/>
<text x="98.2" y="390.31" font-size="7.8" font-weight="bold" text-anchor="middle">250</text>
<rect x="111.75" y="360.62" width="5.6" height="19.88" fill="#000"/>
<rect x="117.85" y="351.18" width="4.6" height="29.32" fill="#fff" stroke="#000" stroke-width="1"/>
<rect x="123.45" y="355.44" width="4.6" height="25.06" fill="#d6d6d6" stroke="#000" stroke-width="1"/>
<line x1="120.15" y1="380.5" x2="120.15" y2="382.5" stroke="#000" stroke-width="0.9"/>
<text x="120.15" y="390.31" font-size="7.8" font-weight="bold" text-anchor="middle">375</text>
<rect x="133.7" y="371.27" width="5.6" height="9.23" fill="#000"/>
<rect x="139.8" y="364.31" width="4.6" height="16.19" fill="#fff" stroke="#000" stroke-width="1"/>
<rect x="145.4" y="367.51" width="4.6" height="12.99" fill="#d6d6d6" stroke="#000" stroke-width="1"/>
<line x1="142.1" y1="380.5" x2="142.1" y2="382.5" stroke="#000" stroke-width="0.9"/>
<text x="142.1" y="390.31" font-size="7.8" font-weight="bold" text-anchor="middle">500</text>
<text x="98.6" y="408.84" font-size="7.9" font-weight="bold" text-anchor="middle">palmitate (&#181;M)</text>
<text transform="translate(19.31 341) rotate(-90)" font-size="7.8" font-weight="bold" text-anchor="middle">Growth &amp; Viability (%)</text>
<rect x="138" y="308.2" width="12.5" height="4.4" fill="#000"/>
<text x="151.4" y="312.74" font-size="6.5" font-weight="normal" text-anchor="start">ctrl shRNA</text>
<rect x="138.5" y="317.6" width="11.5" height="3.6" fill="#fff" stroke="#000" stroke-width="1"/>
<text x="151.4" y="321.74" font-size="6.5" font-weight="normal" text-anchor="start">CPT1a 1</text>
<rect x="138.5" y="327.1" width="11.5" height="3.6" fill="#d6d6d6" stroke="#000" stroke-width="1"/>
<text x="151.4" y="331.24" font-size="6.5" font-weight="normal" text-anchor="start">CPT1a 2</text>
<line x1="226.5" y1="310.5" x2="226.5" y2="379.7" stroke="#000" stroke-width="1.1"/>
<line x1="226" y1="379.5" x2="312" y2="379.5" stroke="#000" stroke-width="1.1"/>
<line x1="224.6" y1="379.2" x2="226.8" y2="379.2" stroke="#000" stroke-width="0.9"/>
<text x="224.2" y="382.08" font-size="8" font-weight="bold" text-anchor="end">0</text>
<line x1="224.6" y1="366.7" x2="226.8" y2="366.7" stroke="#000" stroke-width="0.9"/>
<text x="224.2" y="369.58" font-size="8" font-weight="bold" text-anchor="end">2</text>
<line x1="224.6" y1="354.2" x2="226.8" y2="354.2" stroke="#000" stroke-width="0.9"/>
<text x="224.2" y="357.08" font-size="8" font-weight="bold" text-anchor="end">4</text>
<line x1="224.6" y1="341.7" x2="226.8" y2="341.7" stroke="#000" stroke-width="0.9"/>
<text x="224.2" y="344.58" font-size="8" font-weight="bold" text-anchor="end">6</text>
<line x1="224.6" y1="329.2" x2="226.8" y2="329.2" stroke="#000" stroke-width="0.9"/>
<text x="224.2" y="332.08" font-size="8" font-weight="bold" text-anchor="end">8</text>
<line x1="224.6" y1="316.7" x2="226.8" y2="316.7" stroke="#000" stroke-width="0.9"/>
<text x="224.2" y="319.58" font-size="8" font-weight="bold" text-anchor="end">10</text>
<rect x="228.32" y="371.32" width="4.45" height="7.88" fill="#000"/>
<line x1="235" y1="373.07" x2="235" y2="370.26" stroke="#000" stroke-width="1"/>
<line x1="233.7" y1="370.26" x2="236.3" y2="370.26" stroke="#000" stroke-width="1"/>
<rect x="233.22" y="373.52" width="3.55" height="5.67" fill="#fff" stroke="#000" stroke-width="0.9"/>
<line x1="239.45" y1="372.95" x2="239.45" y2="371.07" stroke="#000" stroke-width="1"/>
<line x1="238.15" y1="371.07" x2="240.75" y2="371.07" stroke="#000" stroke-width="1"/>
<rect x="237.67" y="373.4" width="3.55" height="5.8" fill="#e4e4e4" stroke="#000" stroke-width="0.9"/>
<line x1="235" y1="379.2" x2="235" y2="381.2" stroke="#000" stroke-width="0.9"/>
<text x="235" y="389.88" font-size="8" font-weight="bold" text-anchor="middle">0</text>
<line x1="248" y1="362.14" x2="248" y2="354.07" stroke="#000" stroke-width="1"/>
<line x1="246.7" y1="354.07" x2="249.3" y2="354.07" stroke="#000" stroke-width="1"/>
<rect x="245.77" y="362.14" width="4.45" height="17.06" fill="#000"/>
<line x1="252.45" y1="373.95" x2="252.45" y2="366.95" stroke="#000" stroke-width="1"/>
<line x1="251.15" y1="366.95" x2="253.75" y2="366.95" stroke="#000" stroke-width="1"/>
<rect x="250.67" y="374.4" width="3.55" height="4.8" fill="#fff" stroke="#000" stroke-width="0.9"/>
<line x1="256.9" y1="370.26" x2="256.9" y2="365.26" stroke="#000" stroke-width="1"/>
<line x1="255.6" y1="365.26" x2="258.2" y2="365.26" stroke="#000" stroke-width="1"/>
<rect x="255.12" y="370.71" width="3.55" height="8.49" fill="#e4e4e4" stroke="#000" stroke-width="0.9"/>
<line x1="252.45" y1="379.2" x2="252.45" y2="381.2" stroke="#000" stroke-width="0.9"/>
<text x="252.45" y="389.88" font-size="8" font-weight="bold" text-anchor="middle">25</text>
<line x1="265.45" y1="350.95" x2="265.45" y2="340.14" stroke="#000" stroke-width="1"/>
<line x1="264.15" y1="340.14" x2="266.75" y2="340.14" stroke="#000" stroke-width="1"/>
<rect x="263.22" y="350.95" width="4.45" height="28.25" fill="#000"/>
<line x1="269.9" y1="373.76" x2="269.9" y2="366.14" stroke="#000" stroke-width="1"/>
<line x1="268.6" y1="366.14" x2="271.2" y2="366.14" stroke="#000" stroke-width="1"/>
<rect x="268.12" y="374.21" width="3.55" height="4.99" fill="#fff" stroke="#000" stroke-width="0.9"/>
<line x1="274.35" y1="371.64" x2="274.35" y2="369.07" stroke="#000" stroke-width="1"/>
<line x1="273.05" y1="369.07" x2="275.65" y2="369.07" stroke="#000" stroke-width="1"/>
<rect x="272.57" y="372.09" width="3.55" height="7.11" fill="#e4e4e4" stroke="#000" stroke-width="0.9"/>
<line x1="269.9" y1="379.2" x2="269.9" y2="381.2" stroke="#000" stroke-width="0.9"/>
<text x="269.9" y="389.88" font-size="8" font-weight="bold" text-anchor="middle">50</text>
<line x1="282.9" y1="347.14" x2="282.9" y2="333.26" stroke="#000" stroke-width="1"/>
<line x1="281.6" y1="333.26" x2="284.2" y2="333.26" stroke="#000" stroke-width="1"/>
<rect x="280.68" y="347.14" width="4.45" height="32.06" fill="#000"/>
<line x1="287.35" y1="371.32" x2="287.35" y2="363.32" stroke="#000" stroke-width="1"/>
<line x1="286.05" y1="363.32" x2="288.65" y2="363.32" stroke="#000" stroke-width="1"/>
<rect x="285.57" y="371.77" width="3.55" height="7.42" fill="#fff" stroke="#000" stroke-width="0.9"/>
<line x1="291.8" y1="372.07" x2="291.8" y2="367.32" stroke="#000" stroke-width="1"/>
<line x1="290.5" y1="367.32" x2="293.1" y2="367.32" stroke="#000" stroke-width="1"/>
<rect x="290.02" y="372.52" width="3.55" height="6.67" fill="#e4e4e4" stroke="#000" stroke-width="0.9"/>
<line x1="287.35" y1="379.2" x2="287.35" y2="381.2" stroke="#000" stroke-width="0.9"/>
<text x="287.35" y="389.88" font-size="8" font-weight="bold" text-anchor="middle">100</text>
<line x1="300.35" y1="331.82" x2="300.35" y2="314.57" stroke="#000" stroke-width="1"/>
<line x1="299.05" y1="314.57" x2="301.65" y2="314.57" stroke="#000" stroke-width="1"/>
<rect x="298.12" y="331.82" width="4.45" height="47.38" fill="#000"/>
<rect x="303.02" y="377.4" width="3.55" height="1.8" fill="#fff" stroke="#000" stroke-width="0.9"/>
<line x1="309.25" y1="370.26" x2="309.25" y2="365.64" stroke="#000" stroke-width="1"/>
<line x1="307.95" y1="365.64" x2="310.55" y2="365.64" stroke="#000" stroke-width="1"/>
<rect x="307.47" y="370.71" width="3.55" height="8.49" fill="#e4e4e4" stroke="#000" stroke-width="0.9"/>
<line x1="304.8" y1="379.2" x2="304.8" y2="381.2" stroke="#000" stroke-width="0.9"/>
<text x="304.8" y="389.88" font-size="8" font-weight="bold" text-anchor="middle">200</text>
<text x="270" y="405.02" font-size="8.4" font-weight="bold" text-anchor="middle">palmitate (&#181;M)</text>
<text transform="translate(200.45 344) rotate(-90)" font-size="8.2" font-weight="bold" text-anchor="middle">Relative mitoROS</text>
<rect x="313.5" y="310.2" width="13.5" height="5.2" fill="#000"/>
<text x="328.5" y="315.43" font-size="7.3" font-weight="normal" text-anchor="start">ctrl shRNA</text>
<rect x="314" y="320.8" width="12.5" height="4.4" fill="#fff" stroke="#000" stroke-width="1"/>
<text x="328.5" y="325.63" font-size="7.3" font-weight="normal" text-anchor="start">CPT1a 1</text>
<rect x="314" y="330.9" width="12.5" height="4.4" fill="#e0e0e0" stroke="#000" stroke-width="1"/>
<text x="328.5" y="335.73" font-size="7.3" font-weight="normal" text-anchor="start">CPT1a 2</text>
<line x1="45.5" y1="441.5" x2="45.5" y2="516.8" stroke="#000" stroke-width="1.1"/>
<line x1="45" y1="516.5" x2="120" y2="516.5" stroke="#000" stroke-width="1.1"/>
<line x1="42.8" y1="516.3" x2="45" y2="516.3" stroke="#000" stroke-width="0.9"/>
<text x="42.4" y="519.04" font-size="7.6" font-weight="bold" text-anchor="end">0.0</text>
<line x1="42.8" y1="504" x2="45" y2="504" stroke="#000" stroke-width="0.9"/>
<text x="42.4" y="506.74" font-size="7.6" font-weight="bold" text-anchor="end">0.2</text>
<line x1="42.8" y1="491.7" x2="45" y2="491.7" stroke="#000" stroke-width="0.9"/>
<text x="42.4" y="494.44" font-size="7.6" font-weight="bold" text-anchor="end">0.4</text>
<line x1="42.8" y1="479.4" x2="45" y2="479.4" stroke="#000" stroke-width="0.9"/>
<text x="42.4" y="482.14" font-size="7.6" font-weight="bold" text-anchor="end">0.6</text>
<line x1="42.8" y1="467.1" x2="45" y2="467.1" stroke="#000" stroke-width="0.9"/>
<text x="42.4" y="469.84" font-size="7.6" font-weight="bold" text-anchor="end">0.8</text>
<line x1="42.8" y1="454.8" x2="45" y2="454.8" stroke="#000" stroke-width="0.9"/>
<text x="42.4" y="457.54" font-size="7.6" font-weight="bold" text-anchor="end">1.0</text>
<line x1="42.8" y1="442.5" x2="45" y2="442.5" stroke="#000" stroke-width="0.9"/>
<text x="42.4" y="445.24" font-size="7.6" font-weight="bold" text-anchor="end">1.2</text>
<line x1="55.25" y1="453.57" x2="55.25" y2="444.34" stroke="#000" stroke-width="1.2"/>
<line x1="51.5" y1="444.34" x2="59" y2="444.34" stroke="#000" stroke-width="1.2"/>
<rect x="47.5" y="453.57" width="15.5" height="62.73" fill="#000"/>
<line x1="55.25" y1="516.3" x2="55.25" y2="518.3" stroke="#000" stroke-width="0.9"/>
<line x1="73.4" y1="460.33" x2="73.4" y2="458.49" stroke="#000" stroke-width="1.2"/>
<line x1="69.65" y1="458.49" x2="77.15" y2="458.49" stroke="#000" stroke-width="1.2"/>
<rect x="65.5" y="460.33" width="15.8" height="55.97" fill="#000"/>
<line x1="73.4" y1="516.3" x2="73.4" y2="518.3" stroke="#000" stroke-width="0.9"/>
<line x1="91.65" y1="478.78" x2="91.65" y2="473.86" stroke="#000" stroke-width="1.2"/>
<line x1="87.9" y1="473.86" x2="95.4" y2="473.86" stroke="#000" stroke-width="1.2"/>
<rect x="83.8" y="478.78" width="15.7" height="37.51" fill="#000"/>
<line x1="91.65" y1="516.3" x2="91.65" y2="518.3" stroke="#000" stroke-width="0.9"/>
<line x1="110" y1="493.54" x2="110" y2="491.7" stroke="#000" stroke-width="1.2"/>
<line x1="106.25" y1="491.7" x2="113.75" y2="491.7" stroke="#000" stroke-width="1.2"/>
<rect x="102" y="493.54" width="16" height="22.75" fill="#000"/>
<line x1="110" y1="516.3" x2="110" y2="518.3" stroke="#000" stroke-width="0.9"/>
<text transform="translate(26.09 478.4) rotate(-90)" font-size="7.2" font-weight="bold" text-anchor="middle">Relative PPAR&#945; expression</text>
<text transform="translate(58.25 524.6) rotate(-45)" font-size="7.2" font-weight="normal" text-anchor="end">untransduced</text>
<text transform="translate(76.4 524.6) rotate(-45)" font-size="7.2" font-weight="normal" text-anchor="end">ctrl shRNA</text>
<text transform="translate(94.65 524.6) rotate(-45)" font-size="7.2" font-weight="normal" text-anchor="end">PPAR&#945; 1</text>
<text transform="translate(113 524.6) rotate(-45)" font-size="7.2" font-weight="normal" text-anchor="end">PPAR&#945; 2</text>
<line x1="183.5" y1="441.62" x2="183.5" y2="515.1" stroke="#000" stroke-width="1.1"/>
<line x1="183" y1="514.5" x2="270" y2="514.5" stroke="#000" stroke-width="1.1"/>
<line x1="181.6" y1="514.6" x2="183.8" y2="514.6" stroke="#000" stroke-width="0.9"/>
<text x="181.2" y="517.34" font-size="7.6" font-weight="bold" text-anchor="end">0</text>
<line x1="181.6" y1="502.52" x2="183.8" y2="502.52" stroke="#000" stroke-width="0.9"/>
<text x="181.2" y="505.26" font-size="7.6" font-weight="bold" text-anchor="end">20</text>
<line x1="181.6" y1="490.44" x2="183.8" y2="490.44" stroke="#000" stroke-width="0.9"/>
<text x="181.2" y="493.18" font-size="7.6" font-weight="bold" text-anchor="end">40</text>
<line x1="181.6" y1="478.36" x2="183.8" y2="478.36" stroke="#000" stroke-width="0.9"/>
<text x="181.2" y="481.1" font-size="7.6" font-weight="bold" text-anchor="end">60</text>
<line x1="181.6" y1="466.28" x2="183.8" y2="466.28" stroke="#000" stroke-width="0.9"/>
<text x="181.2" y="469.02" font-size="7.6" font-weight="bold" text-anchor="end">80</text>
<line x1="181.6" y1="454.2" x2="183.8" y2="454.2" stroke="#000" stroke-width="0.9"/>
<text x="181.2" y="456.94" font-size="7.6" font-weight="bold" text-anchor="end">100</text>
<line x1="181.6" y1="442.12" x2="183.8" y2="442.12" stroke="#000" stroke-width="0.9"/>
<text x="181.2" y="444.86" font-size="7.6" font-weight="bold" text-anchor="end">120</text>
<rect x="187" y="452.99" width="6.2" height="61.61" fill="#000"/>
<line x1="196.3" y1="453.6" x2="196.3" y2="448.16" stroke="#000" stroke-width="1"/>
<line x1="194.6" y1="448.16" x2="198" y2="448.16" stroke="#000" stroke-width="1"/>
<rect x="193.7" y="454.1" width="5.2" height="60.5" fill="#d6d6d6" stroke="#000" stroke-width="1"/>
<line x1="193.2" y1="514.6" x2="193.2" y2="516.6" stroke="#000" stroke-width="0.9"/>
<text x="193.2" y="524.71" font-size="7.8" font-weight="bold" text-anchor="middle">0</text>
<line x1="207.6" y1="465.68" x2="207.6" y2="463.86" stroke="#000" stroke-width="1"/>
<line x1="205.9" y1="463.86" x2="209.3" y2="463.86" stroke="#000" stroke-width="1"/>
<rect x="204.5" y="465.68" width="6.2" height="48.92" fill="#000"/>
<line x1="213.8" y1="458.43" x2="213.8" y2="456.01" stroke="#000" stroke-width="1"/>
<line x1="212.1" y1="456.01" x2="215.5" y2="456.01" stroke="#000" stroke-width="1"/>
<rect x="211.2" y="458.93" width="5.2" height="55.67" fill="#d6d6d6" stroke="#000" stroke-width="1"/>
<line x1="210.7" y1="514.6" x2="210.7" y2="516.6" stroke="#000" stroke-width="0.9"/>
<text x="210.7" y="524.71" font-size="7.8" font-weight="bold" text-anchor="middle">125</text>
<rect x="221.9" y="482.59" width="6.2" height="32.01" fill="#000"/>
<line x1="231.2" y1="470.21" x2="231.2" y2="467.49" stroke="#000" stroke-width="1"/>
<line x1="229.5" y1="467.49" x2="232.9" y2="467.49" stroke="#000" stroke-width="1"/>
<rect x="228.6" y="470.71" width="5.2" height="43.89" fill="#d6d6d6" stroke="#000" stroke-width="1"/>
<line x1="228.1" y1="514.6" x2="228.1" y2="516.6" stroke="#000" stroke-width="0.9"/>
<text x="228.1" y="524.71" font-size="7.8" font-weight="bold" text-anchor="middle">250</text>
<rect x="239.4" y="497.69" width="6.2" height="16.91" fill="#000"/>
<line x1="248.7" y1="486.51" x2="248.7" y2="485.61" stroke="#000" stroke-width="1"/>
<line x1="247" y1="485.61" x2="250.4" y2="485.61" stroke="#000" stroke-width="1"/>
<rect x="246.1" y="487.01" width="5.2" height="27.59" fill="#d6d6d6" stroke="#000" stroke-width="1"/>
<line x1="245.6" y1="514.6" x2="245.6" y2="516.6" stroke="#000" stroke-width="0.9"/>
<text x="245.6" y="524.71" font-size="7.8" font-weight="bold" text-anchor="middle">375</text>
<rect x="256.9" y="506.75" width="6.2" height="7.85" fill="#000"/>
<line x1="266.2" y1="499.2" x2="266.2" y2="498.29" stroke="#000" stroke-width="1"/>
<line x1="264.5" y1="498.29" x2="267.9" y2="498.29" stroke="#000" stroke-width="1"/>
<rect x="263.6" y="499.7" width="5.2" height="14.9" fill="#d6d6d6" stroke="#000" stroke-width="1"/>
<line x1="263.1" y1="514.6" x2="263.1" y2="516.6" stroke="#000" stroke-width="0.9"/>
<text x="263.1" y="524.71" font-size="7.8" font-weight="bold" text-anchor="middle">500</text>
<rect x="245.5" y="443.2" width="11.5" height="4.6" fill="#000"/>
<rect x="246" y="452.4" width="10.5" height="4" fill="#d6d6d6" stroke="#000" stroke-width="1"/>
<text x="256.8" y="447.88" font-size="6.6" font-weight="normal" text-anchor="start">ctrl shRNA</text>
<text x="256.8" y="456.98" font-size="6.6" font-weight="normal" text-anchor="start">PPAR&#945; 1</text>
<text transform="translate(162.13 477.5) rotate(-90)" font-size="7.3" font-weight="bold" text-anchor="middle">Growth &amp; Viability (%)</text>
<text x="228.4" y="540.73" font-size="7.3" font-weight="bold" text-anchor="middle">palmitate (&#181;M)</text>
<line x1="332.5" y1="442.1" x2="332.5" y2="516.3" stroke="#000" stroke-width="1.1"/>
<line x1="332" y1="515.5" x2="419" y2="515.5" stroke="#000" stroke-width="1.1"/>
<line x1="329.8" y1="515.8" x2="332" y2="515.8" stroke="#000" stroke-width="0.9"/>
<text x="329.4" y="518.54" font-size="7.6" font-weight="bold" text-anchor="end">0</text>
<line x1="329.8" y1="503.6" x2="332" y2="503.6" stroke="#000" stroke-width="0.9"/>
<text x="329.4" y="506.34" font-size="7.6" font-weight="bold" text-anchor="end">20</text>
<line x1="329.8" y1="491.4" x2="332" y2="491.4" stroke="#000" stroke-width="0.9"/>
<text x="329.4" y="494.14" font-size="7.6" font-weight="bold" text-anchor="end">40</text>
<line x1="329.8" y1="479.2" x2="332" y2="479.2" stroke="#000" stroke-width="0.9"/>
<text x="329.4" y="481.94" font-size="7.6" font-weight="bold" text-anchor="end">60</text>
<line x1="329.8" y1="467" x2="332" y2="467" stroke="#000" stroke-width="0.9"/>
<text x="329.4" y="469.74" font-size="7.6" font-weight="bold" text-anchor="end">80</text>
<line x1="329.8" y1="454.8" x2="332" y2="454.8" stroke="#000" stroke-width="0.9"/>
<text x="329.4" y="457.54" font-size="7.6" font-weight="bold" text-anchor="end">100</text>
<line x1="329.8" y1="442.6" x2="332" y2="442.6" stroke="#000" stroke-width="0.9"/>
<text x="329.4" y="445.34" font-size="7.6" font-weight="bold" text-anchor="end">120</text>
<rect x="336.3" y="454.19" width="6.2" height="61.61" fill="#000"/>
<line x1="345.6" y1="454.8" x2="345.6" y2="448.7" stroke="#000" stroke-width="1"/>
<line x1="343.9" y1="448.7" x2="347.3" y2="448.7" stroke="#000" stroke-width="1"/>
<rect x="343" y="455.3" width="5.2" height="60.5" fill="#d6d6d6" stroke="#000" stroke-width="1"/>
<line x1="342.5" y1="515.8" x2="342.5" y2="517.8" stroke="#000" stroke-width="0.9"/>
<text x="342.5" y="524.71" font-size="7.8" font-weight="bold" text-anchor="middle">0</text>
<line x1="356.9" y1="460.29" x2="356.9" y2="459.07" stroke="#000" stroke-width="1"/>
<line x1="355.2" y1="459.07" x2="358.6" y2="459.07" stroke="#000" stroke-width="1"/>
<rect x="353.8" y="460.29" width="6.2" height="55.51" fill="#000"/>
<line x1="363.1" y1="460.29" x2="363.1" y2="457.85" stroke="#000" stroke-width="1"/>
<line x1="361.4" y1="457.85" x2="364.8" y2="457.85" stroke="#000" stroke-width="1"/>
<rect x="360.5" y="460.79" width="5.2" height="55.01" fill="#d6d6d6" stroke="#000" stroke-width="1"/>
<line x1="360" y1="515.8" x2="360" y2="517.8" stroke="#000" stroke-width="0.9"/>
<text x="360" y="524.71" font-size="7.8" font-weight="bold" text-anchor="middle">125</text>
<rect x="371.2" y="477.37" width="6.2" height="38.43" fill="#000"/>
<line x1="380.5" y1="468.83" x2="380.5" y2="466.69" stroke="#000" stroke-width="1"/>
<line x1="378.8" y1="466.69" x2="382.2" y2="466.69" stroke="#000" stroke-width="1"/>
<rect x="377.9" y="469.33" width="5.2" height="46.47" fill="#d6d6d6" stroke="#000" stroke-width="1"/>
<line x1="377.4" y1="515.8" x2="377.4" y2="517.8" stroke="#000" stroke-width="0.9"/>
<text x="377.4" y="524.71" font-size="7.8" font-weight="bold" text-anchor="middle">250</text>
<rect x="388.7" y="493.53" width="6.2" height="22.26" fill="#000"/>
<line x1="398" y1="486.52" x2="398" y2="483.77" stroke="#000" stroke-width="1"/>
<line x1="396.3" y1="483.77" x2="399.7" y2="483.77" stroke="#000" stroke-width="1"/>
<rect x="395.4" y="487.02" width="5.2" height="28.78" fill="#d6d6d6" stroke="#000" stroke-width="1"/>
<line x1="394.9" y1="515.8" x2="394.9" y2="517.8" stroke="#000" stroke-width="0.9"/>
<text x="394.9" y="524.71" font-size="7.8" font-weight="bold" text-anchor="middle">375</text>
<rect x="406.2" y="504.21" width="6.2" height="11.59" fill="#000"/>
<line x1="415.5" y1="499.33" x2="415.5" y2="497.5" stroke="#000" stroke-width="1"/>
<line x1="413.8" y1="497.5" x2="417.2" y2="497.5" stroke="#000" stroke-width="1"/>
<rect x="412.9" y="499.83" width="5.2" height="15.97" fill="#d6d6d6" stroke="#000" stroke-width="1"/>
<line x1="412.4" y1="515.8" x2="412.4" y2="517.8" stroke="#000" stroke-width="0.9"/>
<text x="412.4" y="524.71" font-size="7.8" font-weight="bold" text-anchor="middle">500</text>
<rect x="394.5" y="443.2" width="11.5" height="4.6" fill="#000"/>
<rect x="395" y="452.4" width="10.5" height="4" fill="#d6d6d6" stroke="#000" stroke-width="1"/>
<text x="405.8" y="447.88" font-size="6.6" font-weight="normal" text-anchor="start">ctrl shRNA</text>
<text x="405.8" y="456.98" font-size="6.6" font-weight="normal" text-anchor="start">PPAR&#945; 2</text>
<text transform="translate(312.13 478.8) rotate(-90)" font-size="7.3" font-weight="bold" text-anchor="middle">Growth &amp; Viability (%)</text>
<text x="377.5" y="541.23" font-size="7.3" font-weight="bold" text-anchor="middle">palmitate (&#181;M)</text>
<text x="73.8" y="573.32" font-size="9.5" font-weight="bold" text-anchor="middle">PPAR&#945;</text>
<line x1="29.5" y1="584.4" x2="29.5" y2="643.1" stroke="#000" stroke-width="1.1"/>
<line x1="29" y1="642.5" x2="117" y2="642.5" stroke="#000" stroke-width="1.1"/>
<line x1="26.9" y1="642.6" x2="29.1" y2="642.6" stroke="#000" stroke-width="0.9"/>
<text x="26.3" y="644.83" font-size="6.2" font-weight="normal" text-anchor="end">0</text>
<line x1="26.9" y1="623.2" x2="29.1" y2="623.2" stroke="#000" stroke-width="0.9"/>
<text x="26.3" y="625.43" font-size="6.2" font-weight="normal" text-anchor="end">10</text>
<line x1="26.9" y1="603.8" x2="29.1" y2="603.8" stroke="#000" stroke-width="0.9"/>
<text x="26.3" y="606.03" font-size="6.2" font-weight="normal" text-anchor="end">20</text>
<line x1="26.9" y1="584.4" x2="29.1" y2="584.4" stroke="#000" stroke-width="0.9"/>
<text x="26.3" y="586.63" font-size="6.2" font-weight="normal" text-anchor="end">30</text>
<line x1="29.1" y1="642.6" x2="29.1" y2="644.6" stroke="#000" stroke-width="0.9"/>
<text x="29.1" y="651.92" font-size="7" font-weight="bold" text-anchor="middle">0</text>
<line x1="45.25" y1="642.6" x2="45.25" y2="644.6" stroke="#000" stroke-width="0.9"/>
<text x="45.85" y="651.92" font-size="7" font-weight="bold" text-anchor="middle">100</text>
<line x1="61.4" y1="642.6" x2="61.4" y2="644.6" stroke="#000" stroke-width="0.9"/>
<text x="62" y="651.92" font-size="7" font-weight="bold" text-anchor="middle">200</text>
<line x1="77.55" y1="642.6" x2="77.55" y2="644.6" stroke="#000" stroke-width="0.9"/>
<text x="78.15" y="651.92" font-size="7" font-weight="bold" text-anchor="middle">300</text>
<line x1="93.7" y1="642.6" x2="93.7" y2="644.6" stroke="#000" stroke-width="0.9"/>
<text x="94.3" y="651.92" font-size="7" font-weight="bold" text-anchor="middle">400</text>
<line x1="109.85" y1="642.6" x2="109.85" y2="644.6" stroke="#000" stroke-width="0.9"/>
<text x="110.45" y="651.92" font-size="7" font-weight="bold" text-anchor="middle">500</text>
<polyline points="29.1,623.2 49.29,610.01 69.47,597.59 89.66,591.58 109.85,590.61" fill="none" stroke="#000" stroke-width="1.5" stroke-linejoin="round"/>
<polyline points="29.1,623.2 49.29,612.53 69.47,597.2 89.66,598.17 109.85,596.82" fill="none" stroke="#000" stroke-width="1.5" stroke-linejoin="round"/>
<polyline points="29.1,623.2 49.29,621.26 69.47,619.32 89.66,615.83 109.85,610.98" fill="none" stroke="#000" stroke-width="1.5" stroke-linejoin="round"/>
<polyline points="29.1,623.2 49.29,621.26 69.47,619.51 89.66,616.41 109.85,613.69" fill="none" stroke="#000" stroke-width="1.5" stroke-linejoin="round"/>
<circle cx="29.1" cy="623.2" r="1.5" fill="#000"/>
<circle cx="49.29" cy="610.01" r="1.5" fill="#000"/>
<circle cx="69.47" cy="597.59" r="1.5" fill="#000"/>
<circle cx="89.66" cy="591.58" r="1.5" fill="#000"/>
<circle cx="109.85" cy="590.61" r="1.5" fill="#000"/>
<rect x="27.6" y="621.7" width="3" height="3" fill="#000"/>
<rect x="47.79" y="611.03" width="3" height="3" fill="#000"/>
<rect x="67.97" y="595.7" width="3" height="3" fill="#000"/>
<rect x="88.16" y="596.67" width="3" height="3" fill="#000"/>
<rect x="108.35" y="595.32" width="3" height="3" fill="#000"/>
<polygon points="29.1,621.4 27.3,624.55 30.9,624.55" fill="#000"/>
<polygon points="49.29,619.46 47.49,622.61 51.09,622.61" fill="#000"/>
<polygon points="69.47,617.52 67.67,620.67 71.27,620.67" fill="#000"/>
<polygon points="89.66,614.03 87.86,617.18 91.46,617.18" fill="#000"/>
<polygon points="109.85,609.18 108.05,612.33 111.65,612.33" fill="#000"/>
<polygon points="29.1,625 27.3,621.85 30.9,621.85" fill="#000"/>
<polygon points="49.29,623.06 47.49,619.91 51.09,619.91" fill="#000"/>
<polygon points="69.47,621.31 67.67,618.16 71.27,618.16" fill="#000"/>
<polygon points="89.66,618.21 87.86,615.06 91.46,615.06" fill="#000"/>
<polygon points="109.85,615.49 108.05,612.34 111.65,612.34" fill="#000"/>
<text transform="translate(8.93 613.5) rotate(-90)" font-size="7.3" font-weight="bold" text-anchor="middle">% Annexin V Positive</text>
<text x="73.4" y="669.43" font-size="7.3" font-weight="bold" text-anchor="middle">palmitate (&#181;M)</text>
<line x1="118.3" y1="587.6" x2="129.4" y2="587.6" stroke="#000" stroke-width="1.2"/>
<circle cx="123.5" cy="587.6" r="1.3" fill="#000"/>
<text x="130.4" y="589.83" font-size="6.2" font-weight="normal" text-anchor="start">untransduced</text>
<line x1="118.3" y1="595.97" x2="129.4" y2="595.97" stroke="#000" stroke-width="1.2"/>
<rect x="122.2" y="594.67" width="2.6" height="2.6" fill="#000"/>
<text x="130.4" y="598.2" font-size="6.2" font-weight="normal" text-anchor="start">ctrl shRNA</text>
<line x1="118.3" y1="604.34" x2="129.4" y2="604.34" stroke="#000" stroke-width="1.2"/>
<polygon points="123.5,602.78 121.94,605.51 125.06,605.51" fill="#000"/>
<text x="130.4" y="606.57" font-size="6.2" font-weight="normal" text-anchor="start">PPAR&#945; 1</text>
<line x1="118.3" y1="612.71" x2="129.4" y2="612.71" stroke="#000" stroke-width="1.2"/>
<polygon points="123.5,614.27 121.94,611.54 125.06,611.54" fill="#000"/>
<text x="130.4" y="614.94" font-size="6.2" font-weight="normal" text-anchor="start">PPAR&#945; 2</text>
<text x="243.3" y="566.79" font-size="10.8" font-weight="bold" text-anchor="middle">PPAR&#945;</text>
<line x1="202.5" y1="579.79" x2="202.5" y2="649.8" stroke="#000" stroke-width="1.1"/>
<line x1="202" y1="649.5" x2="283.8" y2="649.5" stroke="#000" stroke-width="1.1"/>
<line x1="200" y1="649.3" x2="202.2" y2="649.3" stroke="#000" stroke-width="0.9"/>
<text x="199.6" y="652.11" font-size="7.8" font-weight="bold" text-anchor="end">0</text>
<line x1="200" y1="639.37" x2="202.2" y2="639.37" stroke="#000" stroke-width="0.9"/>
<text x="199.6" y="642.18" font-size="7.8" font-weight="bold" text-anchor="end">1</text>
<line x1="200" y1="629.44" x2="202.2" y2="629.44" stroke="#000" stroke-width="0.9"/>
<text x="199.6" y="632.25" font-size="7.8" font-weight="bold" text-anchor="end">2</text>
<line x1="200" y1="619.51" x2="202.2" y2="619.51" stroke="#000" stroke-width="0.9"/>
<text x="199.6" y="622.32" font-size="7.8" font-weight="bold" text-anchor="end">3</text>
<line x1="200" y1="609.58" x2="202.2" y2="609.58" stroke="#000" stroke-width="0.9"/>
<text x="199.6" y="612.39" font-size="7.8" font-weight="bold" text-anchor="end">4</text>
<line x1="200" y1="599.65" x2="202.2" y2="599.65" stroke="#000" stroke-width="0.9"/>
<text x="199.6" y="602.46" font-size="7.8" font-weight="bold" text-anchor="end">5</text>
<line x1="200" y1="589.72" x2="202.2" y2="589.72" stroke="#000" stroke-width="0.9"/>
<text x="199.6" y="592.53" font-size="7.8" font-weight="bold" text-anchor="end">6</text>
<line x1="200" y1="579.79" x2="202.2" y2="579.79" stroke="#000" stroke-width="0.9"/>
<text x="199.6" y="582.6" font-size="7.8" font-weight="bold" text-anchor="end">7</text>
<line x1="207.2" y1="639.37" x2="207.2" y2="638.38" stroke="#000" stroke-width="1"/>
<line x1="205.7" y1="638.38" x2="208.7" y2="638.38" stroke="#000" stroke-width="1"/>
<rect x="204.65" y="639.37" width="5.1" height="9.93" fill="#000"/>
<line x1="212.3" y1="639.87" x2="212.3" y2="637.38" stroke="#000" stroke-width="1"/>
<line x1="210.8" y1="637.38" x2="213.8" y2="637.38" stroke="#000" stroke-width="1"/>
<rect x="210.25" y="640.37" width="4.1" height="8.93" fill="#fff" stroke="#000" stroke-width="1"/>
<line x1="217.4" y1="639.37" x2="217.4" y2="633.41" stroke="#000" stroke-width="1"/>
<line x1="215.9" y1="633.41" x2="218.9" y2="633.41" stroke="#000" stroke-width="1"/>
<rect x="215.35" y="639.87" width="4.1" height="9.43" fill="#d6d6d6" stroke="#000" stroke-width="1"/>
<line x1="212.3" y1="649.3" x2="212.3" y2="651.3" stroke="#000" stroke-width="0.9"/>
<text x="212.3" y="660.08" font-size="8" font-weight="bold" text-anchor="middle">0</text>
<line x1="227.6" y1="622.99" x2="227.6" y2="615.54" stroke="#000" stroke-width="1"/>
<line x1="226.1" y1="615.54" x2="229.1" y2="615.54" stroke="#000" stroke-width="1"/>
<rect x="225.05" y="622.99" width="5.1" height="26.31" fill="#000"/>
<line x1="232.7" y1="634.9" x2="232.7" y2="632.42" stroke="#000" stroke-width="1"/>
<line x1="231.2" y1="632.42" x2="234.2" y2="632.42" stroke="#000" stroke-width="1"/>
<rect x="230.65" y="635.4" width="4.1" height="13.9" fill="#fff" stroke="#000" stroke-width="1"/>
<line x1="237.8" y1="631.92" x2="237.8" y2="624.47" stroke="#000" stroke-width="1"/>
<line x1="236.3" y1="624.47" x2="239.3" y2="624.47" stroke="#000" stroke-width="1"/>
<rect x="235.75" y="632.42" width="4.1" height="16.88" fill="#d6d6d6" stroke="#000" stroke-width="1"/>
<line x1="232.7" y1="649.3" x2="232.7" y2="651.3" stroke="#000" stroke-width="0.9"/>
<text x="232.7" y="660.08" font-size="8" font-weight="bold" text-anchor="middle">25</text>
<line x1="248" y1="605.61" x2="248" y2="595.68" stroke="#000" stroke-width="1"/>
<line x1="246.5" y1="595.68" x2="249.5" y2="595.68" stroke="#000" stroke-width="1"/>
<rect x="245.45" y="605.61" width="5.1" height="43.69" fill="#000"/>
<line x1="253.1" y1="628.45" x2="253.1" y2="627.95" stroke="#000" stroke-width="1"/>
<line x1="251.6" y1="627.95" x2="254.6" y2="627.95" stroke="#000" stroke-width="1"/>
<rect x="251.05" y="628.95" width="4.1" height="20.35" fill="#fff" stroke="#000" stroke-width="1"/>
<line x1="258.2" y1="621.5" x2="258.2" y2="614.54" stroke="#000" stroke-width="1"/>
<line x1="256.7" y1="614.54" x2="259.7" y2="614.54" stroke="#000" stroke-width="1"/>
<rect x="256.15" y="622" width="4.1" height="27.3" fill="#d6d6d6" stroke="#000" stroke-width="1"/>
<line x1="253.1" y1="649.3" x2="253.1" y2="651.3" stroke="#000" stroke-width="0.9"/>
<text x="253.1" y="660.08" font-size="8" font-weight="bold" text-anchor="middle">50</text>
<line x1="268.4" y1="599.65" x2="268.4" y2="584.75" stroke="#000" stroke-width="1"/>
<line x1="266.9" y1="584.75" x2="269.9" y2="584.75" stroke="#000" stroke-width="1"/>
<rect x="265.85" y="599.65" width="5.1" height="49.65" fill="#000"/>
<line x1="273.5" y1="630.93" x2="273.5" y2="630.43" stroke="#000" stroke-width="1"/>
<line x1="272" y1="630.43" x2="275" y2="630.43" stroke="#000" stroke-width="1"/>
<rect x="271.45" y="631.43" width="4.1" height="17.87" fill="#fff" stroke="#000" stroke-width="1"/>
<line x1="278.6" y1="627.45" x2="278.6" y2="613.55" stroke="#000" stroke-width="1"/>
<line x1="277.1" y1="613.55" x2="280.1" y2="613.55" stroke="#000" stroke-width="1"/>
<rect x="276.55" y="627.95" width="4.1" height="21.35" fill="#d6d6d6" stroke="#000" stroke-width="1"/>
<line x1="273.5" y1="649.3" x2="273.5" y2="651.3" stroke="#000" stroke-width="0.9"/>
<text x="273.5" y="660.08" font-size="8" font-weight="bold" text-anchor="middle">100</text>
<text x="243.8" y="673.38" font-size="8" font-weight="bold" text-anchor="middle">palmitate (&#181;M)</text>
<text transform="translate(177.84 615) rotate(-90)" font-size="7.9" font-weight="bold" text-anchor="middle">Relative mitoROS</text>
<rect x="290.5" y="583.1" width="12" height="5.2" fill="#000"/>
<text x="303.8" y="588.22" font-size="7" font-weight="normal" text-anchor="start">ctrl shRNA</text>
<rect x="291" y="594.8" width="11" height="4.4" fill="#fff" stroke="#000" stroke-width="1"/>
<text x="303.8" y="599.52" font-size="7" font-weight="normal" text-anchor="start">PPAR&#945; 1</text>
<rect x="291" y="603.5" width="11" height="4.4" fill="#d6d6d6" stroke="#000" stroke-width="1"/>
<text x="303.8" y="608.22" font-size="7" font-weight="normal" text-anchor="start">PPAR&#945; 2</text>
</g>
</svg>
</body></html>
